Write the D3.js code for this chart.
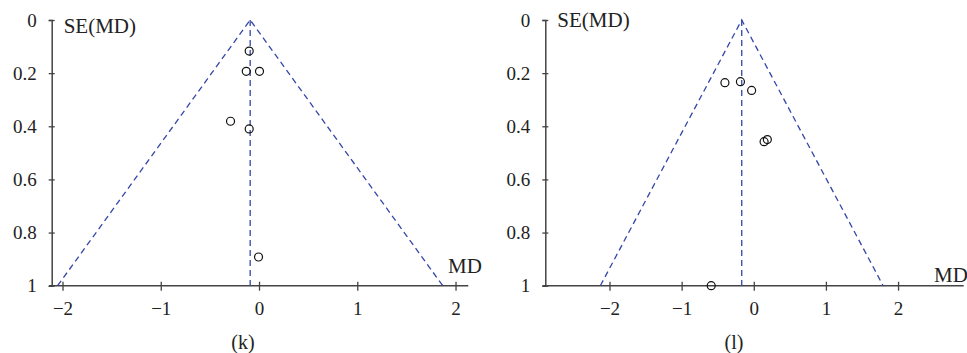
<!DOCTYPE html>
<html>
<head>
<meta charset="utf-8">
<script src="https://cdn.jsdelivr.net/npm/d3@7"></script>
<style>
  body { margin: 0; background: #fff; }
  svg { display: block; }
  text { font-family: "Liberation Serif", "DejaVu Serif", serif; fill: #222; }
</style>
</head>
<body>
<svg id="chart" width="967" height="353"></svg>
<script>
// funnel plot (k)
const kMD = [-0.10, -0.13, 0.005, -0.29, -0.10, -0.005];
const kSE = [0.117, 0.193, 0.193, 0.381, 0.41, 0.892];
const kPooled = -0.09;

// funnel plot (l)
const lMD = [-0.40, -0.185, -0.03, 0.143, 0.188, -0.59];
const lSE = [0.236, 0.232, 0.265, 0.458, 0.45, 1.0];
const lPooled = -0.167;

const seTicks = [0, 0.2, 0.4, 0.6, 0.8, 1];
const mdTicks = [-2, -1, 0, 1, 2];
const z = 1.96;

const svg = d3.select('#chart');

function drawFunnel(opt) {
  const x = d3.scaleLinear().domain(opt.xDomain).range(opt.xRange);
  const y = d3.scaleLinear().domain([0, 1]).range([20, 285.7]);
  const g = svg.append('g');

  // x axis
  const xa = g.append('g')
    .attr('transform', 'translate(0,' + y(1) + ')')
    .call(d3.axisBottom(x).tickValues(mdTicks).tickSizeOuter(0).tickSize(5).tickPadding(11)
      .tickFormat(d3.format('d')));
  xa.attr('font-family', null).attr('font-size', null);
  xa.select('.domain').attr('stroke', '#444').attr('stroke-width', 1.5)
    .attr('d', 'M' + (opt.xRange[0] - 2.5) + ',0H' + opt.xRange[1]);
  xa.selectAll('.tick line').attr('stroke', '#444').attr('stroke-width', 1.3).attr('y1', -4).attr('y2', 5);
  xa.selectAll('.tick text').attr('font-size', 19).attr('fill', '#222');

  // y axis
  const ya = g.append('g')
    .attr('transform', 'translate(' + opt.xRange[0] + ',0)')
    .call(d3.axisLeft(y).tickValues(seTicks).tickSizeOuter(0).tickSize(3).tickPadding(12)
      .tickFormat(d => d === 0 || d === 1 ? d3.format('d')(d) : d3.format('.1f')(d)));
  ya.attr('font-family', null).attr('font-size', null);
  ya.select('.domain').attr('stroke', '#444').attr('stroke-width', 1.5);
  ya.selectAll('.tick line').attr('stroke', '#444').attr('stroke-width', 1.3).attr('x1', -3).attr('x2', 3);
  ya.selectAll('.tick text').attr('font-size', 19).attr('fill', '#222');

  // funnel lines
  const dash = { stroke: '#3346a8', 'stroke-width': 1.3, 'stroke-dasharray': '6,4', fill: 'none' };
  const lines = [
    [[opt.pooled - z, 1], [opt.pooled, 0], [opt.pooled + z, 1]],
    [[opt.pooled, 0], [opt.pooled, 1]]
  ];
  const line = d3.line().x(d => x(d[0])).y(d => y(d[1]));
  lines.forEach(pts => {
    const p = g.append('path').attr('d', line(pts));
    Object.entries(dash).forEach(([k, v]) => p.attr(k, v));
  });

  // study points
  g.selectAll('circle.pt')
    .data(opt.md.map((m, i) => [m, opt.se[i]]))
    .join('circle')
    .attr('class', 'pt')
    .attr('cx', d => x(d[0]))
    .attr('cy', d => y(d[1]))
    .attr('r', 4)
    .attr('fill', 'none')
    .attr('stroke', '#111')
    .attr('stroke-width', 1.2);

  // labels
  g.append('text').attr('x', opt.xRange[0] + 12).attr('y', opt.seLabelY)
    .attr('font-size', 21).text('SE(MD)');
  g.append('text').attr('x', opt.mdLabelX).attr('y', opt.mdLabelY)
    .attr('font-size', 21).text('MD');
  g.append('text').attr('x', opt.captionX).attr('y', 349)
    .attr('text-anchor', 'middle').attr('font-size', 20).text(opt.caption);
}

drawFunnel({
  xDomain: [-2.11, 2.13], xRange: [51.7, 468.3],
  md: kMD, se: kSE, pooled: kPooled,
  seLabelY: 33, mdLabelX: 448, mdLabelY: 273,
  captionX: 243, caption: '(k)'
});

drawFunnel({
  xDomain: [-2.89, 2.91], xRange: [545.3, 963.7],
  md: lMD, se: lSE, pooled: lPooled,
  seLabelY: 27, mdLabelX: 934, mdLabelY: 282,
  captionX: 734, caption: '(l)'
});
</script>
</body>
</html>
